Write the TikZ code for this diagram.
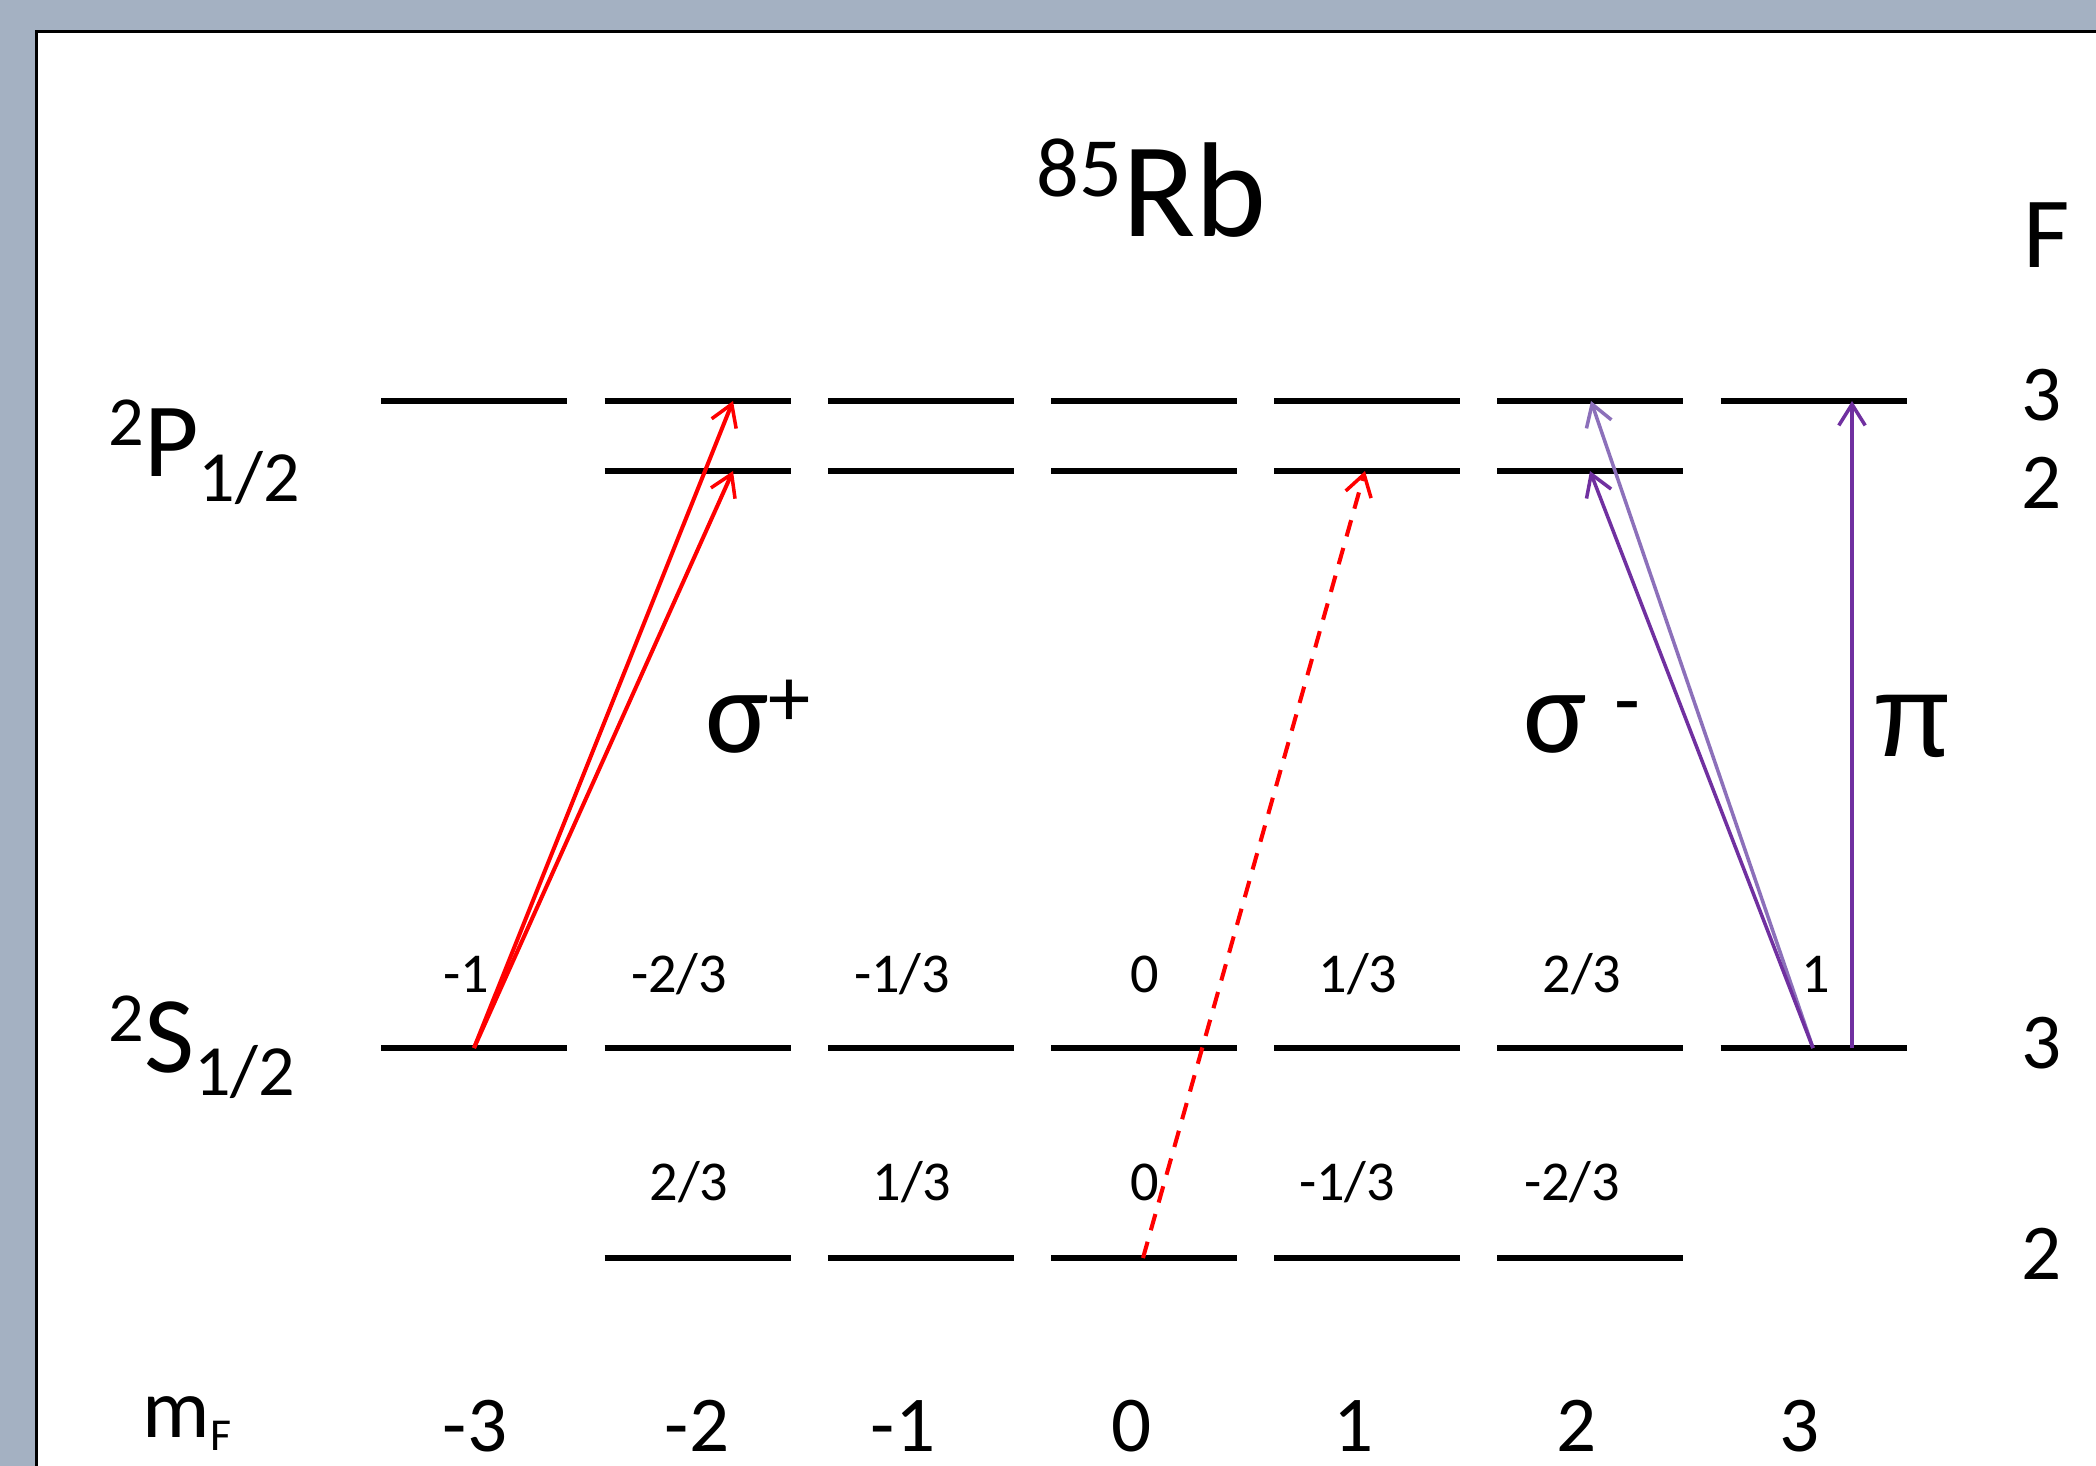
\documentclass[tikz,border=0pt]{standalone}
\usepackage{fontspec}
\setmainfont{Carlito}
\newfontfamily\pifont{Liberation Sans}
\usetikzlibrary{arrows.meta}
\definecolor{framegray}{RGB}{164,177,194}
\definecolor{darkpurple}{RGB}{112,48,160}
\definecolor{lightpurple}{RGB}{140,112,186}
\newcommand\fsz[1]{\fontsize{#1}{#1}\selectfont}
\begin{document}
\begin{tikzpicture}[x=0.01cm,y=-0.01cm,
  level/.style={line width=1.8pt},
  trans/.style={line width=1pt,-{Straight Barb[length=6pt,width=7.5pt,line width=1pt]}},
  cg/.style={anchor=base,inner sep=0pt,font=\fsz{16}},
  big/.style={anchor=base,inner sep=0pt,font=\fsz{22.5}},
  lab/.style={anchor=base west,inner sep=0pt},
]
\useasboundingbox (0,0) rectangle (2096,1466);
\fill[framegray] (0,0) rectangle (2096,1466);
\filldraw[fill=white,draw=black,line width=0.9pt] (36.5,31.5) rectangle (2130,1500);

% energy levels
\foreach \k in {-3,...,3} {
  \draw[level] ({1144+223.2*\k-93},401) -- ++(186,0);
  \draw[level] ({1144+223.2*\k-93},1048) -- ++(186,0);
}
\foreach \k in {-2,...,2} {
  \draw[level] ({1144+223.2*\k-93},471) -- ++(186,0);
  \draw[level] ({1144+223.2*\k-93},1258) -- ++(186,0);
}

% transition end points
\coordinate (s3a) at (474,1048);
\coordinate (p3b) at (733,401);
\coordinate (p2b) at (733,471);
\coordinate (s2d) at (1143,1258);
\coordinate (p2e) at (1365,471);
\coordinate (s3g) at (1813,1048);
\coordinate (p2f) at (1590,471);
\coordinate (p3f) at (1591,401);
\coordinate (s3pi) at (1852,1048);
\coordinate (p3pi) at (1852,401);

\draw[trans,red,line width=1.15pt] (s3a) -- (p3b);
\draw[trans,red,line width=1.15pt] (s3a) -- (p2b);
\draw[trans,red,line width=1.15pt,dash pattern=on 4.8pt off 3.4pt] (s2d) -- (p2e);
\draw[trans,lightpurple] (s3g) -- (p3f);
\draw[trans,darkpurple] (s3g) -- (p2f);
\draw[trans,darkpurple] (s3pi) -- (p3pi);

% title and labels
\node[lab] (title) at (1036,236) {\raisebox{0.39cm}{\fsz{24}85}\fsz{38.4}Rb};
\node[anchor=base,inner sep=0pt] (Flab) at (2047,267) {\fsz{28.7}F};
\node[lab] (p12) at (108,476) {\raisebox{0.30cm}{\fsz{20}2}\fsz{30}P\raisebox{-0.25cm}{\fsz{20.5}1/2}};
\node[lab] (s12) at (108,1072) {\raisebox{0.30cm}{\fsz{20}2}\fsz{31}S\raisebox{-0.23cm}{\fsz{20.5}1/2}};
\node[lab] (mf) at (142,1437) {\fsz{24}m\raisebox{-0.13cm}{\fsz{13}F}};

\node[big] (fp3) at (2042,420) {3};
\node[big] (fp2) at (2042,508) {2};
\node[big] (fs3) at (2042,1068) {3};
\node[big] (fs2) at (2042,1279) {2};

\node[big] (m1) at (475,1451) {-3};
\node[big] (m2) at (697,1451) {-2};
\node[big] (m3) at (903,1451) {-1};
\node[big] (m4) at (1132,1451) {0};
\node[big] (m5) at (1354,1451) {1};
\node[big] (m6) at (1577,1451) {2};
\node[big] (m7) at (1800,1451) {3};

\node[cg] (u1) at (466,992) {-1};
\node[cg] (u2) at (679,992) {-2/3};
\node[cg] (u3) at (902,992) {-1/3};
\node[cg] (u4) at (1145,992) {0};
\node[cg] (u5) at (1358,992) {1/3};
\node[cg] (u6) at (1582,992) {2/3};
\node[cg] (u7) at (1816,992) {1};

\node[cg] (l2) at (689,1200) {2/3};
\node[cg] (l3) at (912,1200) {1/3};
\node[cg] (l4) at (1145,1200) {0};
\node[cg] (l5) at (1347,1200) {-1/3};
\node[cg] (l6) at (1572,1200) {-2/3};

\node[anchor=base,inner sep=0pt] (sigp) at (758,752) {\fsz{34}σ\raisebox{0.25cm}{\fsz{24}+}};
\node[anchor=base,inner sep=0pt] (sigm) at (1582,752) {\fsz{34}σ \raisebox{0.24cm}{\fsz{24}-}};
\node[anchor=base,inner sep=0pt] (pilab) at (1913,756) {\pifont\fsz{33}π};
\end{tikzpicture}
\end{document}
